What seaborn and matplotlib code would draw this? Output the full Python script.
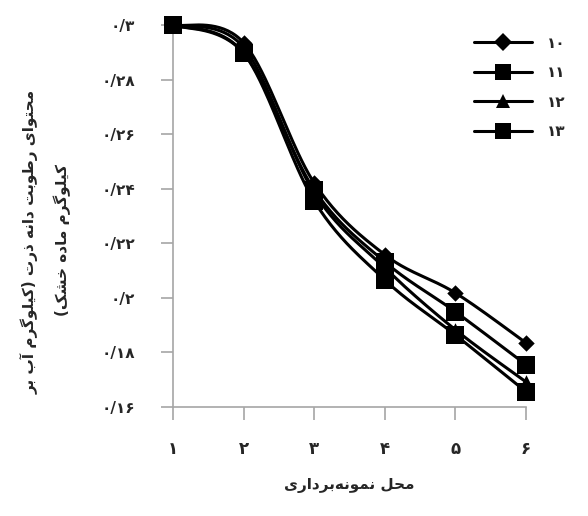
import numpy as np
import pandas as pd
import matplotlib
matplotlib.use("Agg")
import matplotlib.pyplot as plt
from matplotlib.lines import Line2D
import seaborn as sns

# ---------------- data ----------------
x_positions = [1, 2, 3, 4, 5, 6]
x_tick_labels = ["۱", "۲", "۳", "۴", "۵", "۶"]
y_ticks = [0.16, 0.18, 0.20, 0.22, 0.24, 0.26, 0.28, 0.30]
y_tick_labels = ["۰/۱۶", "۰/۱۸", "۰/۲", "۰/۲۲", "۰/۲۴", "۰/۲۶", "۰/۲۸", "۰/۳"]
series_names = ["۱۰", "۱۱", "۱۲", "۱۳"]
s10 = [0.300, 0.2935, 0.2421, 0.2158, 0.2018, 0.1835]
s11 = [0.300, 0.2897, 0.2396, 0.2132, 0.1949, 0.1755]
s12 = [0.300, 0.2918, 0.2385, 0.2110, 0.1883, 0.1692]
s13 = [0.300, 0.2897, 0.2355, 0.2066, 0.1864, 0.1656]
series_values = [s10, s11, s12, s13]
markers = ["D", "s", "^", "s"]
marker_sizes = [70, 150, 110, 150]

x_label = "محل نمونه‌برداری"
y_label_1 = "محتوای رطوبت دانه ذرت (کیلوگرم آب بر"
y_label_2 = "کیلوگرم ماده خشک)"

# ------------- simple Persian shaping -------------
FORMS = {
    "ا": ("\uFE8D", "\uFE8E", None, None),
    "آ": ("\uFE81", "\uFE82", None, None),
    "ب": ("\uFE8F", "\uFE90", "\uFE91", "\uFE92"),
    "ت": ("\uFE95", "\uFE96", "\uFE97", "\uFE98"),
    "ح": ("\uFEA1", "\uFEA2", "\uFEA3", "\uFEA4"),
    "خ": ("\uFEA5", "\uFEA6", "\uFEA7", "\uFEA8"),
    "د": ("\uFEA9", "\uFEAA", None, None),
    "ذ": ("\uFEAB", "\uFEAC", None, None),
    "ر": ("\uFEAD", "\uFEAE", None, None),
    "ش": ("\uFEB5", "\uFEB6", "\uFEB7", "\uFEB8"),
    "ط": ("\uFEC1", "\uFEC2", "\uFEC3", "\uFEC4"),
    "ل": ("\uFEDD", "\uFEDE", "\uFEDF", "\uFEE0"),
    "م": ("\uFEE1", "\uFEE2", "\uFEE3", "\uFEE4"),
    "ن": ("\uFEE5", "\uFEE6", "\uFEE7", "\uFEE8"),
    "ه": ("\uFEE9", "\uFEEA", "\uFEEB", "\uFEEC"),
    "و": ("\uFEED", "\uFEEE", None, None),
    "ک": ("\uFB8E", "\uFB8F", "\uFB90", "\uFB91"),
    "گ": ("\uFB92", "\uFB93", "\uFB94", "\uFB95"),
    "ی": ("\uFBFC", "\uFBFD", "\uFBFE", "\uFBFF"),
}


def dual(c):
    return c in FORMS and FORMS[c][2] is not None


def joins(c):
    return c in FORMS


def shape(text):
    out = []
    n = len(text)
    for i, c in enumerate(text):
        if c == "\u200c":
            continue
        if c not in FORMS:
            out.append(c)
            continue
        prev = text[i - 1] if i > 0 else ""
        nxt = text[i + 1] if i + 1 < n else ""
        jp = dual(prev) and joins(c)
        jn = dual(c) and joins(nxt)
        iso, fin, ini, med = FORMS[c]
        if jp and jn:
            out.append(med)
        elif jp:
            out.append(fin)
        elif jn:
            out.append(ini)
        else:
            out.append(iso)
    mirror = {"(": ")", ")": "("}
    return "".join(mirror.get(ch, ch) for ch in reversed(out))


# ------------- smoothing (Excel-like Catmull-Rom) -------------
def smooth(xs, ys, n=40):
    xs = np.asarray(xs, float)
    ys = np.asarray(ys, float)
    px = np.concatenate([[xs[0]], xs, [xs[-1]]])
    py = np.concatenate([[ys[0]], ys, [ys[-1]]])
    ox, oy = [], []
    t = np.linspace(0, 1, n)
    for i in range(1, len(px) - 2):
        p0 = np.array([px[i], py[i]])
        p3 = np.array([px[i + 1], py[i + 1]])
        c1 = p0 + (np.array([px[i + 1], py[i + 1]]) - np.array([px[i - 1], py[i - 1]])) / 6
        c2 = p3 - (np.array([px[i + 2], py[i + 2]]) - np.array([px[i], py[i]])) / 6
        b = ((1 - t) ** 3)[:, None] * p0 + (3 * (1 - t) ** 2 * t)[:, None] * c1 \
            + (3 * (1 - t) * t ** 2)[:, None] * c2 + (t ** 3)[:, None] * p3
        ox.extend(b[:, 0])
        oy.extend(b[:, 1])
    return np.array(ox), np.array(oy)


sns.set_theme(style="white")
plt.rcParams["font.family"] = ["DejaVu Sans"]

fig = plt.figure(figsize=(5.88, 5.16), dpi=100)
ax = fig.add_axes([173 / 588, 109 / 516, 353 / 588, 382 / 516])

rows = []
pts = []
for name, vals in zip(series_names, series_values):
    sx, sy = smooth(x_positions, vals)
    for a, b in zip(sx, sy):
        rows.append({"x": a, "y": b, "series": name})
    for a, b in zip(x_positions, vals):
        pts.append({"x": a, "y": b, "series": name})
curve = pd.DataFrame(rows)
points = pd.DataFrame(pts)

for name, m, ms in zip(series_names, markers, marker_sizes):
    sns.lineplot(data=curve[curve.series == name], x="x", y="y", color="black",
                 linewidth=2.2, sort=False, estimator=None, ax=ax, legend=False,
                 clip_on=False, zorder=3)
    sns.scatterplot(data=points[points.series == name], x="x", y="y", marker=m,
                    s=ms, color="black", edgecolor="black", linewidth=0, ax=ax,
                    legend=False, clip_on=False, zorder=4)

ax.set_xlim(1, 6)
ax.set_ylim(0.16, 0.30)
ax.set_xticks(x_positions)
ax.set_xticklabels(x_tick_labels, fontsize=12, fontweight="bold")
ax.set_yticks(y_ticks)
ax.set_yticklabels(y_tick_labels, fontsize=11, fontweight="bold")
ax.tick_params(axis="both", direction="out", length=9, width=1.2, color="#a6a6a6",
               left=True, bottom=True)
ax.tick_params(axis="y", pad=18)
ax.tick_params(axis="x", pad=15)
for side in ["top", "right"]:
    ax.spines[side].set_visible(False)
for side in ["left", "bottom"]:
    ax.spines[side].set_color("#a6a6a6")
    ax.spines[side].set_linewidth(1.2)
ax.grid(False)

ax.set_xlabel(shape(x_label), fontsize=11, fontweight="bold", labelpad=14)
ax.set_ylabel("")
fig.text(30 / 588, 1 - 242 / 516, shape(y_label_1), rotation=90, fontsize=11,
         fontweight="bold", ha="center", va="center")
fig.text(62 / 588, 1 - 240 / 516, shape(y_label_2), rotation=90, fontsize=11,
         fontweight="bold", ha="center", va="center")

handles = [Line2D([0], [0], color="black", linewidth=2.2, marker=m,
                  markersize=ms, markerfacecolor="black", markeredgewidth=0)
           for m, ms in zip(markers, [9, 12, 10, 12])]
leg = ax.legend(handles, series_names, loc="upper left",
                bbox_to_anchor=(460 / 588, 1 - 22 / 516), bbox_transform=fig.transFigure,
                frameon=False, handlelength=3.8, labelspacing=0.95, handletextpad=1.0,
                prop={"size": 11, "weight": "bold"})

fig.savefig("out.png", dpi=100, facecolor="white")
